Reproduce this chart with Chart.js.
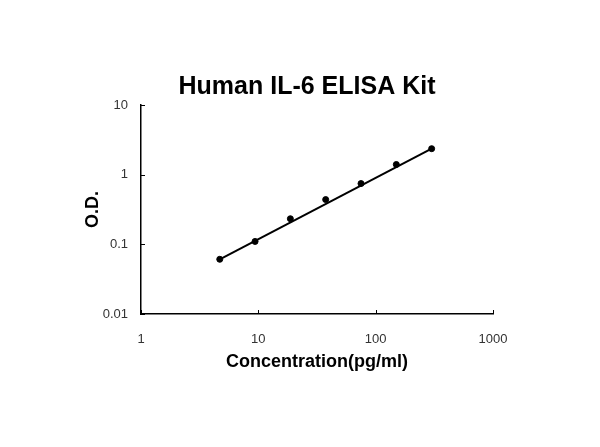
<!DOCTYPE html>
<html>
<head>
<meta charset="utf-8">
<script src="https://cdn.jsdelivr.net/npm/chart.js@4"></script>
<style>
  html, body { margin: 0; padding: 0; background: #fff; }
</style>
</head>
<body>
<canvas id="myChart" width="600" height="447"></canvas>
<script>
// standard curve values
let concentration = [4.69, 9.38, 18.75, 37.5, 75, 150, 300];
let od = [0.061, 0.110, 0.233, 0.439, 0.745, 1.40, 2.36];
// fitted line end points
let fitX = [4.69, 300];
let fitY = [0.061, 2.36];
let xTickLabels = ['1', '10', '100', '1000'];
let yTickLabels = ['0.01', '0.1', '1', '10'];

function isDecade(v) {
    let l = Math.log10(v);
    return Math.abs(l - Math.round(l)) < 1e-9;
}

// ticks pointing into the plot, like the original
let innerTicks = {
    id: 'innerTicks',
    afterDraw(chart) {
        let c = chart.ctx;
        let xs = chart.scales.x, ys = chart.scales.y;
        let a = chart.chartArea;
        c.save();
        c.strokeStyle = '#000';
        c.lineWidth = 1;
        c.beginPath();
        xs.ticks.forEach(t => {
            let px = Math.round(xs.getPixelForValue(t.value)) + 0.5;
            c.moveTo(px, a.bottom);
            c.lineTo(px, a.bottom - 4);
        });
        ys.ticks.forEach(t => {
            let py = Math.round(ys.getPixelForValue(t.value)) + 0.5;
            c.moveTo(a.left, py);
            c.lineTo(a.left + 4, py);
        });
        c.stroke();
        c.restore();
    }
};

let ctx = document.getElementById('myChart');
let myChart = new Chart(ctx, {
    type: 'scatter',
    data: {
        datasets: [{
            label: 'fit',
            data: fitX.map((x, i) => ({x: x, y: fitY[i]})),
            showLine: true,
            borderColor: '#000',
            borderWidth: 2,
            pointRadius: 0
        }, {
            label: 'OD',
            data: concentration.map((x, i) => ({x: x, y: od[i]})),
            showLine: false,
            backgroundColor: '#000',
            borderColor: '#000',
            pointRadius: 3
        }]
    },
    options: {
        responsive: false,
        animation: false,
        devicePixelRatio: 1,
        layout: { padding: { left: 14, right: 0, top: 0, bottom: 0 } },
        plugins: {
            legend: { display: false },
            tooltip: { enabled: false },
            title: {
                display: true,
                text: 'Human IL-6 ELISA Kit',
                color: '#000',
                font: { family: 'Liberation Sans', size: 25, weight: 'bold' },
                padding: { top: 72, bottom: 3 }
            }
        },
        scales: {
            x: {
                type: 'logarithmic',
                min: 1,
                max: 1000,
                afterFit(s) { s.height = 133; },
                border: { display: true, color: '#000', width: 1.5 },
                grid: { display: true, drawOnChartArea: false, drawTicks: false },
                ticks: {
                    autoSkip: false,
                    maxRotation: 0,
                    padding: 18,
                    color: '#333',
                    font: { family: 'Liberation Sans', size: 13 },
                    callback: (v) => isDecade(v) ? xTickLabels[Math.round(Math.log10(v))] : null
                },
                title: {
                    display: true,
                    text: 'Concentration(pg/ml)',
                    color: '#000',
                    font: { family: 'Liberation Sans', size: 18, weight: 'bold' },
                    padding: { top: 0, bottom: 74 }
                }
            },
            y: {
                type: 'logarithmic',
                min: 0.01,
                max: 10,
                afterFit(s) { s.width = 127; },
                border: { display: true, color: '#000', width: 1.5 },
                grid: { display: true, drawOnChartArea: false, drawTicks: false },
                ticks: {
                    autoSkip: false,
                    padding: 13,
                    color: '#333',
                    font: { family: 'Liberation Sans', size: 13 },
                    callback: (v) => isDecade(v) ? yTickLabels[Math.round(Math.log10(v)) + 2] : null
                },
                title: {
                    display: true,
                    text: 'O.D.',
                    color: '#000',
                    font: { family: 'Liberation Sans', size: 18, weight: 'bold' },
                    padding: { top: 68, bottom: 0 }
                }
            },
            // empty right-hand space, the plot ends at 1000
            pad: {
                type: 'linear',
                position: 'right',
                afterFit(s) { s.width = 107; },
                border: { display: false },
                grid: { display: false },
                ticks: { display: false }
            }
        }
    },
    plugins: [innerTicks]
});
</script>
</body>
</html>
